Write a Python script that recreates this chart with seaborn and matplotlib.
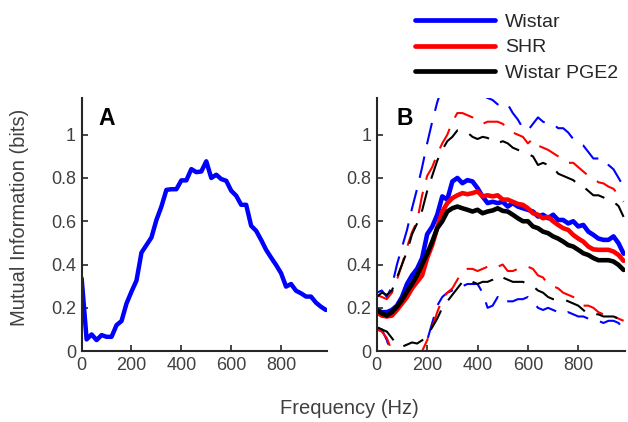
import numpy as np
import matplotlib
matplotlib.use("Agg")
import matplotlib.pyplot as plt
from matplotlib.ticker import FormatStrFormatter
import seaborn as sns

# frequency grid (Hz)
freqs = [0, 20, 40, 60, 80, 100, 120, 140, 160, 180,
         200, 220, 240, 260, 280, 300, 320, 340, 360, 380,
         400, 420, 440, 460, 480, 500, 520, 540, 560, 580,
         600, 620, 640, 660, 680, 700, 720, 740, 760, 780,
         800, 820, 840, 860, 880, 900, 920, 940, 960, 980]

# panel A: single recording
mi_a = [0.336, 0.054, 0.077, 0.051, 0.074, 0.066, 0.066, 0.12, 0.139, 0.22,
        0.275, 0.326, 0.455, 0.49, 0.525, 0.606, 0.668, 0.745, 0.748, 0.748,
        0.789, 0.789, 0.841, 0.827, 0.83, 0.877, 0.80, 0.815, 0.795, 0.787,
        0.741, 0.718, 0.676, 0.676, 0.579, 0.556, 0.514, 0.468, 0.432, 0.398,
        0.36, 0.298, 0.31, 0.279, 0.267, 0.252, 0.252, 0.224, 0.205, 0.19]

# panel B: group means
wistar = [0.19, 0.18, 0.18, 0.19, 0.21, 0.25, 0.31, 0.35, 0.38, 0.43,
          0.54, 0.575, 0.63, 0.715, 0.70, 0.784, 0.80, 0.776, 0.79, 0.784,
          0.753, 0.714, 0.684, 0.69, 0.684, 0.69, 0.668, 0.684, 0.668, 0.66,
          0.653, 0.645, 0.622, 0.63, 0.614, 0.63, 0.606, 0.606, 0.59, 0.60,
          0.576, 0.583, 0.552, 0.537, 0.52, 0.514, 0.514, 0.53, 0.498, 0.45]
shr = [0.18, 0.164, 0.16, 0.164, 0.19, 0.22, 0.25, 0.29, 0.32, 0.35,
       0.43, 0.49, 0.57, 0.645, 0.684, 0.707, 0.72, 0.73, 0.725, 0.73,
       0.738, 0.715, 0.72, 0.715, 0.72, 0.70, 0.70, 0.69, 0.68, 0.676,
       0.66, 0.637, 0.63, 0.614, 0.62, 0.60, 0.583, 0.568, 0.56, 0.537,
       0.52, 0.506, 0.483, 0.47, 0.468, 0.468, 0.468, 0.46, 0.444, 0.417]
pge2 = [0.19, 0.174, 0.164, 0.18, 0.205, 0.236, 0.275, 0.31, 0.35, 0.40,
        0.45, 0.506, 0.568, 0.60, 0.645, 0.66, 0.668, 0.66, 0.653, 0.645,
        0.653, 0.637, 0.645, 0.65, 0.66, 0.648, 0.645, 0.63, 0.614, 0.60,
        0.60, 0.576, 0.568, 0.552, 0.545, 0.53, 0.52, 0.506, 0.49, 0.483,
        0.468, 0.452, 0.444, 0.43, 0.42, 0.42, 0.42, 0.414, 0.398, 0.375]

# panel B: confidence bounds
wistar_hi = [0.27, 0.28, 0.25, 0.30, 0.40, 0.48, 0.56, 0.66, 0.75, 0.85,
             0.96, 1.06, 1.15, 1.22, 1.25, 1.25, 1.24, 1.22, 1.21, 1.20,
             1.19, 1.18, 1.17, 1.16, 1.14, 1.15, 1.14, 1.10, 1.07, 1.03,
             1.02, 1.05, 1.08, 1.06, 1.05, 1.05, 1.03, 1.03, 1.01, 0.98,
             0.96, 0.95, 0.92, 0.89, 0.89, 0.89, 0.86, 0.84, 0.80, 0.76]
wistar_lo = [0.11, 0.10, 0.05, -0.02, -0.08, -0.10, -0.10, -0.10, -0.08, -0.03,
             0.05, 0.13, 0.21, 0.25, 0.27, 0.28, 0.28, 0.30, 0.31, 0.31,
             0.31, 0.27, 0.20, 0.21, 0.25, 0.22, 0.23, 0.23, 0.24, 0.24,
             0.25, 0.23, 0.20, 0.19, 0.20, 0.19, 0.18, 0.17, 0.18, 0.17,
             0.16, 0.16, 0.15, 0.14, 0.14, 0.13, 0.14, 0.14, 0.13, 0.10]
shr_hi = [0.26, 0.25, 0.24, 0.27, 0.33, 0.40, 0.48, 0.55, 0.60, 0.72,
          0.81, 0.85, 0.91, 0.96, 1.00, 1.06, 1.10, 1.10, 1.09, 1.08,
          1.06, 1.05, 1.06, 1.06, 1.06, 1.05, 1.03, 1.01, 1.00, 0.99,
          0.96, 0.98, 0.95, 0.94, 0.93, 0.915, 0.90, 0.88, 0.87, 0.87,
          0.85, 0.83, 0.81, 0.80, 0.78, 0.775, 0.76, 0.75, 0.72, 0.69]
shr_lo = [0.10, 0.09, 0.06, 0.0, -0.05, -0.08, -0.08, -0.07, -0.03, 0.0,
          0.05, 0.11, 0.18, 0.24, 0.27, 0.29, 0.33, 0.37, 0.38, 0.38,
          0.37, 0.38, 0.39, 0.40, 0.39, 0.40, 0.37, 0.37, 0.38, 0.38,
          0.39, 0.38, 0.35, 0.34, 0.31, 0.30, 0.29, 0.27, 0.26, 0.25,
          0.23, 0.21, 0.21, 0.20, 0.18, 0.17, 0.16, 0.16, 0.15, 0.14]
pge2_hi = [0.25, 0.27, 0.26, 0.28, 0.34, 0.40, 0.46, 0.54, 0.59, 0.65,
           0.74, 0.81, 0.88, 0.93, 0.97, 0.99, 1.02, 1.02, 1.01, 0.99,
           0.98, 0.99, 0.985, 0.97, 0.96, 0.97, 0.96, 0.94, 0.93, 0.92,
           0.91, 0.90, 0.86, 0.87, 0.86, 0.85, 0.82, 0.81, 0.80, 0.79,
           0.77, 0.76, 0.74, 0.72, 0.72, 0.71, 0.70, 0.69, 0.67, 0.62]
pge2_lo = [0.11, 0.10, 0.09, 0.06, 0.03, 0.02, 0.03, 0.04, 0.035, 0.05,
           0.07, 0.11, 0.15, 0.20, 0.23, 0.26, 0.29, 0.32, 0.33, 0.32,
           0.31, 0.32, 0.32, 0.33, 0.35, 0.34, 0.33, 0.32, 0.32, 0.32,
           0.31, 0.30, 0.28, 0.27, 0.25, 0.24, 0.24, 0.24, 0.23, 0.22,
           0.21, 0.19, 0.17, 0.17, 0.17, 0.16, 0.16, 0.16, 0.15, 0.13]

groups = ["Wistar", "SHR", "Wistar PGE2"]
colors = ["#0000ff", "#ff0000", "#000000"]

sns.set_theme(style="ticks")
plt.rcParams['font.family'] = ['Liberation Sans', 'DejaVu Sans']
text_col = '#404040'
dash = (0, (10.5, 6))

fig = plt.figure(figsize=(6.28, 4.22), dpi=100)
ax_a = fig.add_axes([0.130, 0.168, 0.391, 0.600])
ax_b = fig.add_axes([0.600, 0.168, 0.395, 0.600])

sns.lineplot(x=freqs, y=mi_a, ax=ax_a, color=colors[0], linewidth=3.2)

means = [wistar, shr, pge2]
highs = [wistar_hi, shr_hi, pge2_hi]
lows = [wistar_lo, shr_lo, pge2_lo]
handles = []
for col, hi, lo in zip(colors, highs, lows):
    sns.lineplot(x=freqs, y=hi, ax=ax_b, color=col, linewidth=1.5, linestyle=dash)
    sns.lineplot(x=freqs, y=lo, ax=ax_b, color=col, linewidth=1.5, linestyle=dash)
for name, col, m in zip(groups, colors, means):
    line = sns.lineplot(x=freqs, y=m, ax=ax_b, color=col, linewidth=3.3).lines[-1]
    handles.append((line, name))

for ax, letter, lx in [(ax_a, 'A', 0.10), (ax_b, 'B', 0.114)]:
    ax.set_xlim(0, 985)
    ax.set_ylim(0, 1.17)
    ax.set_xticks([0, 200, 400, 600, 800])
    ax.set_yticks([0, 0.2, 0.4, 0.6, 0.8, 1])
    ax.yaxis.set_major_formatter(FormatStrFormatter('%g'))
    ax.tick_params(direction='in', length=4, width=1.2, labelsize=13,
                   labelcolor=text_col, color='#262626', pad=4)
    for s in ['left', 'bottom']:
        ax.spines[s].set_linewidth(1.5)
        ax.spines[s].set_color('#262626')
    sns.despine(ax=ax)
    ax.text(lx, 0.918, letter, transform=ax.transAxes, fontsize=16.5,
            fontweight='bold', ha='center', va='center', color='black')

fig.text(19.5 / 628, 1 - 217 / 422, 'Mutual Information (bits)', rotation=90,
         ha='center', va='center', fontsize=14.5, color=text_col)
fig.text(349 / 628, 1 - 408 / 422, 'Frequency (Hz)', ha='center', va='center',
         fontsize=14.5, color=text_col)

leg = fig.legend([h for h, _ in handles], [n for _, n in handles],
                 loc='upper left', bbox_to_anchor=(407 / 628, 0.987),
                 frameon=False, fontsize=14, handlelength=4.12,
                 handletextpad=0.52, labelspacing=0.41, borderaxespad=0)
for t in leg.get_texts():
    t.set_color('#262626')
for l in leg.get_lines():
    l.set_linewidth(3.4)

fig.savefig('out.png', dpi=100)
